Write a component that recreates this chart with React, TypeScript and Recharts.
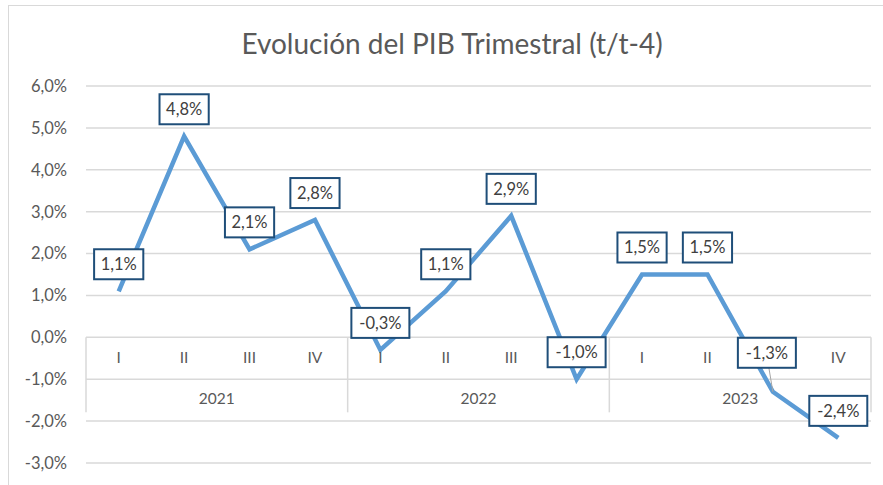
import React from 'react';
import { LineChart, Line, XAxis, YAxis, CartesianGrid, ReferenceLine, ReferenceDot, LabelList } from 'recharts';

const quarters = ['I', 'II', 'III', 'IV', 'I', 'II', 'III', 'IV', 'I', 'II', 'III', 'IV'];
const years = ['2021', '2022', '2023'];
const pib = [1.1, 4.8, 2.1, 2.8, -0.3, 1.1, 2.9, -1.0, 1.5, 1.5, -1.3, -2.4];
const yTicks = [-3, -2, -1, 0, 1, 2, 3, 4, 5, 6];

// category axis sits on the 0 line, drawn as a small table under it
const QUARTER_ROW = -0.48;
const YEAR_ROW = -1.46;
const TABLE_BOTTOM = -1.79;

const data = pib.map((v, i) => ({ x: i + 0.5, q: quarters[i], v }));

const FONT = 'Lato, "Open Sans", sans-serif';
const GREY = '#595959';
const GRID = '#D9D9D9';

const pct = (v: number) => v.toFixed(1).replace('.', ',') + '%';

const ValueLabel = (props: any) => {
  const { x, y, value, index } = props;
  const text = pct(value);
  const w = text.length * 8.8 + 14;
  const h = 30;
  let cx = x;
  let cy = y - 27;
  // Excel moved this one a bit and added a leader line
  const moved = index === 10;
  if (moved) {
    cx = x - 6;
    cy = y - 39;
  }
  return (
    <g>
      {moved && <line x1={cx + 2} y1={cy + h / 2} x2={x} y2={y} stroke="#A6A6A6" strokeWidth={1} />}
      <rect x={cx - w / 2} y={cy - h / 2} width={w} height={h} fill="#fff" stroke="#1F4E79" strokeWidth={2} />
      <text x={cx} y={cy} dy="0.36em" textAnchor="middle" fontSize={16.5} fill="#404040" fontFamily={FONT}>
        {text}
      </text>
    </g>
  );
};

export default function App() {
  return (
    <div style={{ position: 'absolute', left: 0, top: 0, width: 883, height: 485, overflow: 'hidden', background: '#fff' }}>
      <div style={{ position: 'absolute', left: 8, top: 5, width: 900, height: 520, border: `1px solid ${GRID}` }} />
      <div
        style={{
          position: 'absolute',
          left: 0,
          width: 904,
          top: 26,
          textAlign: 'center',
          fontFamily: FONT,
          fontSize: 28,
          color: GREY,
        }}
      >
        Evolución del PIB Trimestral (t/t-4)
      </div>
      <div style={{ position: 'absolute', left: 0, top: 0 }}>
        <LineChart width={883} height={485} data={data} margin={{ top: 86, right: 12, bottom: 22, left: 10 }}>
          <CartesianGrid vertical={false} stroke={GRID} strokeWidth={1.5} />
          <XAxis type="number" dataKey="x" domain={[0, 12]} hide />
          <YAxis
            width={76}
            domain={[-3, 6]}
            ticks={yTicks}
            tickFormatter={pct}
            axisLine={false}
            tickLine={false}
            tickMargin={13}
            tick={{ fill: GREY, fontSize: 16.5, fontFamily: FONT }}
          />
          {[0, 4, 8, 12].map((sx) => (
            <ReferenceLine
              key={'sep' + sx}
              segment={[
                { x: sx, y: 0 },
                { x: sx, y: TABLE_BOTTOM },
              ]}
              stroke={GRID}
              strokeWidth={1.5}
            />
          ))}
          {data.map((d) => (
            <ReferenceDot
              key={'q' + d.x}
              x={d.x}
              y={QUARTER_ROW}
              r={0}
              stroke="none"
              fill="none"
              label={{ value: d.q, position: 'center', fill: GREY, fontSize: 15.5, fontFamily: FONT }}
            />
          ))}
          {years.map((yr, i) => (
            <ReferenceDot
              key={yr}
              x={i * 4 + 2}
              y={YEAR_ROW}
              r={0}
              stroke="none"
              fill="none"
              label={{ value: yr, position: 'center', fill: GREY, fontSize: 15.5, fontFamily: FONT }}
            />
          ))}
          <Line
            type="linear"
            dataKey="v"
            stroke="#5B9BD5"
            strokeWidth={4.5}
            dot={false}
            activeDot={false}
            isAnimationActive={false}
          >
            <LabelList dataKey="v" content={<ValueLabel />} />
          </Line>
        </LineChart>
      </div>
    </div>
  );
}
